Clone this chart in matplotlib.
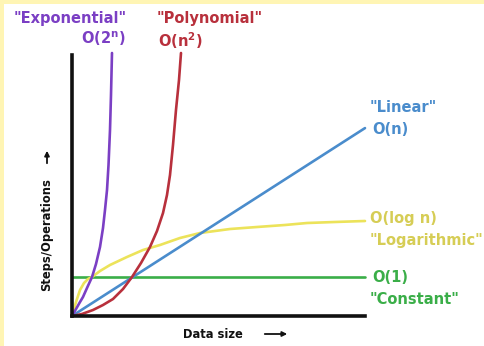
import matplotlib
matplotlib.use("Agg")
import matplotlib.pyplot as plt
from matplotlib.patches import Rectangle

# ---- data (x: data size 0-10, y: steps 0-10) ----
exp_x = [0, 0.137, 0.273, 0.375, 0.512, 0.683, 0.819, 0.956, 1.058, 1.126,
         1.195, 1.246, 1.297, 1.331, 1.365]
exp_y = [0, 0.268, 0.536, 0.728, 1.073, 1.494, 1.992, 2.644, 3.372, 4.061,
         4.828, 5.785, 7.126, 8.467, 10.077]

poly_x = [0, 0.341, 0.717, 1.058, 1.399, 1.741, 2.048, 2.355, 2.662, 2.901,
          3.106, 3.242, 3.345, 3.447, 3.549, 3.652, 3.720]
poly_y = [0, 0.077, 0.230, 0.421, 0.651, 1.034, 1.494, 2.031, 2.644, 3.257,
          3.946, 4.636, 5.402, 6.552, 7.893, 9.042, 10.077]

lin_x = [0, 10]
lin_y = [0, 7.2]

log_x = [0, 0.068, 0.137, 0.205, 0.273, 0.410, 0.546, 0.683, 0.956, 1.297,
         1.877, 2.423, 3.003, 3.686, 4.369, 5.392, 6.314, 7.270, 8.020, 8.976, 10]
log_y = [0, 0.268, 0.536, 0.766, 0.996, 1.264, 1.418, 1.494, 1.724, 1.954,
         2.261, 2.529, 2.720, 2.989, 3.180, 3.333, 3.410, 3.487, 3.563, 3.602, 3.640]

const_x = [0, 10]
const_y = [1.49, 1.49]

PURPLE = "#7b3fc4"
RED = "#b8303c"
BLUE = "#4a8ccc"
YELLOW = "#ece35a"
YELLOW_T = "#d6cd55"
GREEN = "#3aae48"

W, H = 484, 346
fig = plt.figure(figsize=(W / 100, H / 100), dpi=100)
fig.patch.set_facecolor("white")
# pale yellow frame (top and left bands)
fig.patches.append(Rectangle((0, 1 - 4 / H), 1, 4 / H, transform=fig.transFigure,
                             facecolor="#fff5b4", edgecolor="none", zorder=0))
fig.patches.append(Rectangle((0, 0), 4 / W, 1, transform=fig.transFigure,
                             facecolor="#fff5b4", edgecolor="none", zorder=0))

x0, x1 = 72, 365
y0, y1 = 316, 55
ax = fig.add_axes([x0 / W, 1 - y0 / H, (x1 - x0) / W, (y0 - y1) / H])
ax.set_xlim(0, 10)
ax.set_ylim(0, 10)
ax.set_facecolor("none")
for s in ["top", "right"]:
    ax.spines[s].set_visible(False)
for s in ["left", "bottom"]:
    ax.spines[s].set_linewidth(2.6)
    ax.spines[s].set_color("#111111")
ax.set_xticks([])
ax.set_yticks([])

lw = 1.9
kw = dict(lw=lw, clip_on=False, solid_joinstyle="round", solid_capstyle="round")
ax.plot(const_x, const_y, color=GREEN, **kw)
ax.plot(log_x, log_y, color=YELLOW, **kw)
ax.plot(lin_x, lin_y, color=BLUE, **kw)
ax.plot(poly_x, poly_y, color=RED, **kw)
ax.plot(exp_x, exp_y, color=PURPLE, **kw)

fs = 10.5
def t(px, py, s, c, ha="left", size=fs):
    fig.text(px / W, 1 - py / H, s, color=c, ha=ha, va="center",
             fontsize=size, fontweight="bold", family="DejaVu Sans")

t(70, 18, '"Exponential"', PURPLE, ha="center")
t(126, 39, 'O(2$^\\mathbf{n}$)', PURPLE, ha="right")
t(157, 18, '"Polynomial"', RED)
t(158, 41, 'O(n$^\\mathbf{2}$)', RED)
t(370, 108, '"Linear"', BLUE)
t(372, 130, 'O(n)', BLUE)
t(370, 219, 'O(log n)', YELLOW_T)
t(370, 241, '"Logarithmic"', YELLOW_T)
t(372, 277, 'O(1)', GREEN)
t(370, 299, '"Constant"', GREEN)

fig.text(183 / W, 1 - 334 / H, "Data size", color="#111111", ha="left",
         va="center", fontsize=8.3, fontweight="bold")
fig.text(47 / W, 1 - 235 / H, "Steps/Operations", color="#111111",
         ha="center", va="center", rotation=90, fontsize=8.3, fontweight="bold")

arrow = dict(arrowstyle="-|>", color="#111111", lw=1.3, mutation_scale=7)
fig.add_artist(matplotlib.patches.FancyArrowPatch(
    (262 / W, 1 - 334 / H), (290 / W, 1 - 334 / H), transform=fig.transFigure, **arrow))
fig.add_artist(matplotlib.patches.FancyArrowPatch(
    (47 / W, 1 - 166 / H), (47 / W, 1 - 148 / H), transform=fig.transFigure, **arrow))

fig.savefig("out.png", dpi=100)
